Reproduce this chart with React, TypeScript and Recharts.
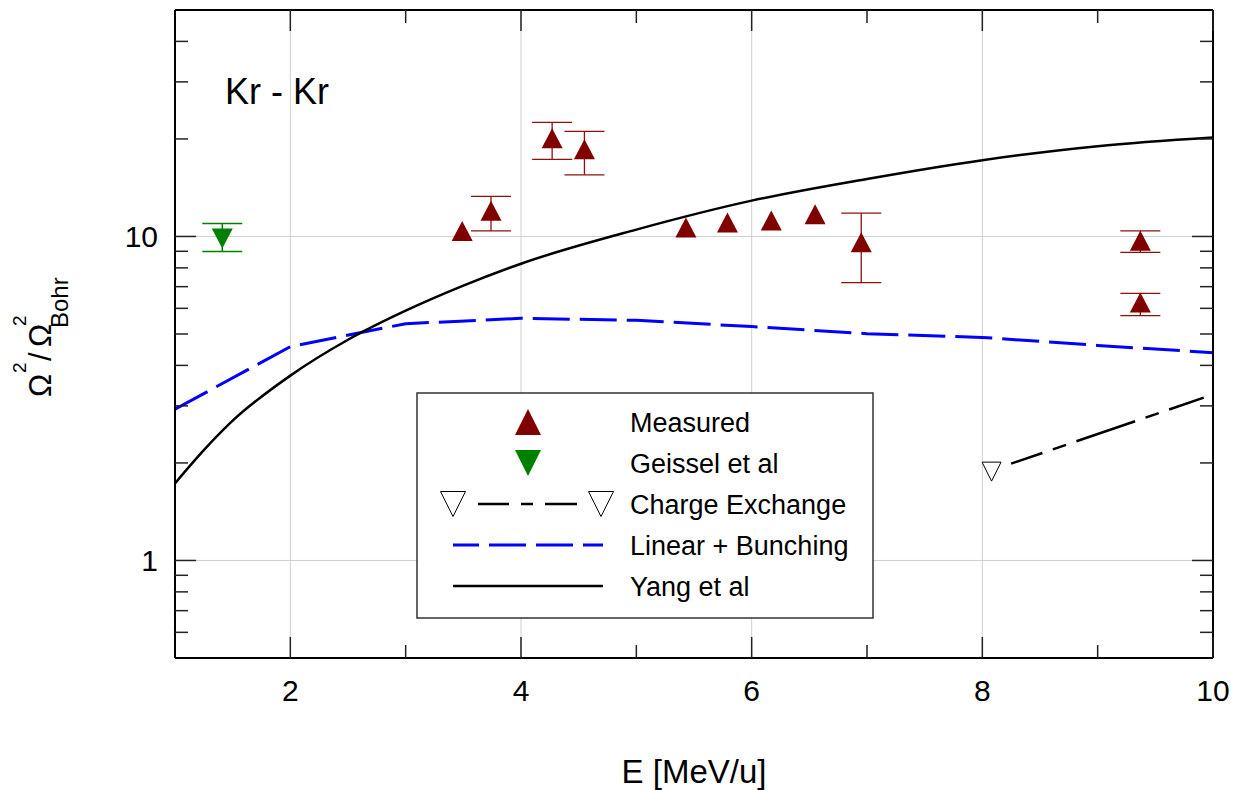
import React from 'react';
import {
  ComposedChart,
  XAxis,
  YAxis,
  Line,
  Scatter,
  ErrorBar,
  ReferenceLine,
} from 'recharts';

// ---------- data ----------
const xTicks = [2, 3, 4, 5, 6, 7, 8, 9, 10];
const xMajor = [2, 4, 6, 8, 10];
const yTicks = [0.6, 0.7, 0.8, 0.9, 1, 2, 3, 4, 5, 6, 7, 8, 9, 10, 20, 30, 40];
const yMajor = [1, 10];
const xGrid = [2, 4, 6, 8];
const yGrid = [1, 10];

// Measured (no visible error bars)
const measE = [3.49, 5.43, 5.79, 6.17, 6.55];
const measV = [10.4, 10.66, 11.05, 11.2, 11.7];

// Measured (with error bars)
const measErrE = [3.74, 4.27, 4.55, 6.95, 9.37, 9.37];
const measErrV = [12.0, 20.1, 18.6, 9.6, 9.7, 6.25];
const measErrLo = [10.4, 17.3, 15.5, 7.2, 8.93, 5.7];
const measErrHi = [13.3, 22.5, 21.1, 11.8, 10.4, 6.67];

// Geissel et al
const geisE = [1.41];
const geisV = [9.86];
const geisLo = [8.99];
const geisHi = [10.97];

// Charge exchange
const ceMarkE = [8.08];
const ceMarkV = [1.88];
const ceLineE = [8.25, 9.92];
const ceLineV = [1.99, 3.18];

// Linear + Bunching
const lbE = [1, 2, 3, 4, 5, 6, 7, 8, 9, 10];
const lbV = [2.93, 4.57, 5.38, 5.59, 5.51, 5.27, 5.01, 4.88, 4.61, 4.38];

// Yang et al
const yangE = [1, 1.25, 1.5, 2, 2.5, 3, 3.5, 4, 5, 6, 7, 8, 9, 10];
const yangV = [1.73, 2.19, 2.7, 3.72, 4.8, 5.9, 7.05, 8.24, 10.5, 12.9, 15.05, 17.2, 19.0, 20.2];

// ---------- derived tables ----------
const measData = measE.map((x, i) => ({ x, y: measV[i] }));
const measErrData = measErrE.map((x, i) => ({
  x,
  y: measErrV[i],
  err: [measErrV[i] - measErrLo[i], measErrHi[i] - measErrV[i]],
}));
const geisData = geisE.map((x, i) => ({
  x,
  y: geisV[i],
  err: [geisV[i] - geisLo[i], geisHi[i] - geisV[i]],
}));
const ceMarkData = ceMarkE.map((x, i) => ({ x, y: ceMarkV[i] }));
const ceLineData = ceLineE.map((x, i) => ({ x, y: ceLineV[i] }));
const lbData = lbE.map((x, i) => ({ x, y: lbV[i] }));
const yangData = yangE.map((x, i) => ({ x, y: yangV[i] }));

const FONT = '"Liberation Sans", Arial, Helvetica, sans-serif';
const RED = '#800000';
const GREEN = '#008000';
const BLUE = '#0000ff';

// ---------- shapes ----------
const triUp = (cx: number, cy: number, w: number, h: number) =>
  `${cx},${cy - h / 2} ${cx + w / 2},${cy + h / 2} ${cx - w / 2},${cy + h / 2}`;
const triDown = (cx: number, cy: number, w: number, h: number) =>
  `${cx - w / 2},${cy - h / 2} ${cx + w / 2},${cy - h / 2} ${cx},${cy + h / 2}`;

const UpShape = (p: any) => <polygon points={triUp(p.cx, p.cy, 21, 20)} fill={RED} />;
const DownGreenShape = (p: any) => <polygon points={triDown(p.cx, p.cy, 21, 20)} fill={GREEN} />;
const DownOpenShape = (p: any) => (
  <polygon points={triDown(p.cx, p.cy, 19, 19)} fill="#fff" stroke="#000" strokeWidth={1} />
);

// ---------- ticks ----------
const MAJ = 21;
const MIN = 13;
const TICK_COLOR = '#222';

const BottomTick = (p: any) => {
  const v = p.payload.value;
  const major = xMajor.includes(v);
  return (
    <g>
      <line x1={p.x} y1={p.y} x2={p.x} y2={p.y - (major ? MAJ : MIN)} stroke={TICK_COLOR} strokeWidth={1.5} />
      {major && (
        <text x={p.x} y={p.y + 43} textAnchor="middle" fontSize={30} fontFamily={FONT} fill="#000">
          {v}
        </text>
      )}
    </g>
  );
};
const TopTick = (p: any) => {
  const v = p.payload.value;
  const major = xMajor.includes(v);
  return <line x1={p.x} y1={p.y} x2={p.x} y2={p.y + (major ? MAJ : MIN)} stroke={TICK_COLOR} strokeWidth={1.5} />;
};
const LeftTick = (p: any) => {
  const v = p.payload.value;
  const major = yMajor.includes(v);
  return (
    <g>
      <line x1={p.x} y1={p.y} x2={p.x + (major ? MAJ : MIN)} y2={p.y} stroke={TICK_COLOR} strokeWidth={1.5} />
      {major && (
        <text x={p.x - 17} y={p.y + 11} textAnchor="end" fontSize={30} fontFamily={FONT} fill="#000">
          {v}
        </text>
      )}
    </g>
  );
};
const RightTick = (p: any) => {
  const v = p.payload.value;
  const major = yMajor.includes(v);
  return <line x1={p.x} y1={p.y} x2={p.x - (major ? MAJ : MIN)} y2={p.y} stroke={TICK_COLOR} strokeWidth={1.5} />;
};

const legendRows = [
  { label: 'Measured', y: 422 },
  { label: 'Geissel et al', y: 463 },
  { label: 'Charge Exchange', y: 504 },
  { label: 'Linear + Bunching', y: 545 },
  { label: 'Yang et al', y: 586 },
];

const axisLineStyle = { stroke: '#000', strokeWidth: 2 };

export default function App() {
  return (
    <div style={{ position: 'absolute', left: 0, top: 0, width: 1244, height: 790, background: '#fff' }}>
      <ComposedChart width={1244} height={790} margin={{ top: 9, right: 30, bottom: 131, left: 174 }}>
        <XAxis
          dataKey="x"
          type="number"
          domain={[1, 10]}
          allowDataOverflow
          ticks={xTicks}
          interval={0}
          orientation="bottom"
          height={1}
          tickSize={0}
          tickMargin={0}
          tickLine={false}
          axisLine={axisLineStyle}
          tick={BottomTick}
        />
        <XAxis
          xAxisId="top"
          dataKey="x"
          type="number"
          domain={[1, 10]}
          allowDataOverflow
          ticks={xTicks}
          interval={0}
          orientation="top"
          height={1}
          tickSize={0}
          tickMargin={0}
          tickLine={false}
          axisLine={axisLineStyle}
          tick={TopTick}
        />
        <YAxis
          dataKey="y"
          type="number"
          scale="log"
          domain={[0.5, 50]}
          allowDataOverflow
          ticks={yTicks}
          interval={0}
          orientation="left"
          width={1}
          tickSize={0}
          tickMargin={0}
          tickLine={false}
          axisLine={axisLineStyle}
          tick={LeftTick}
        />
        <YAxis
          yAxisId="right"
          dataKey="y"
          type="number"
          scale="log"
          domain={[0.5, 50]}
          allowDataOverflow
          ticks={yTicks}
          interval={0}
          orientation="right"
          width={1}
          tickSize={0}
          tickMargin={0}
          tickLine={false}
          axisLine={axisLineStyle}
          tick={RightTick}
        />

        {xGrid.map((v) => (
          <ReferenceLine key={'gx' + v} x={v} stroke="#cfcfcf" strokeWidth={1} />
        ))}
        {yGrid.map((v) => (
          <ReferenceLine key={'gy' + v} y={v} stroke="#cfcfcf" strokeWidth={1} />
        ))}

        <Line
          data={lbData}
          dataKey="y"
          type="linear"
          stroke={BLUE}
          strokeWidth={3}
          strokeDasharray="37 10"
          dot={false}
          activeDot={false}
          isAnimationActive={false}
        />
        <Line
          data={yangData}
          dataKey="y"
          type="monotone"
          stroke="#000"
          strokeWidth={2.5}
          dot={false}
          activeDot={false}
          isAnimationActive={false}
        />
        <Line
          data={ceLineData}
          dataKey="y"
          type="linear"
          stroke="#000"
          strokeWidth={2.5}
          strokeDasharray="33 11 14 11 62 11 14 11 40"
          dot={false}
          activeDot={false}
          isAnimationActive={false}
        />
        <Scatter data={ceMarkData} shape={DownOpenShape} isAnimationActive={false} />
        <Scatter data={geisData} shape={DownGreenShape} isAnimationActive={false}>
          <ErrorBar dataKey="err" direction="y" width={20} stroke={GREEN} strokeWidth={1.5} />
        </Scatter>
        <Scatter data={measErrData} shape={UpShape} isAnimationActive={false}>
          <ErrorBar dataKey="err" direction="y" width={20} stroke="#8b1010" strokeWidth={1.3} />
        </Scatter>
        <Scatter data={measData} shape={UpShape} isAnimationActive={false} />
      </ComposedChart>

      <svg
        width={1244}
        height={790}
        style={{ position: 'absolute', left: 0, top: 0, pointerEvents: 'none' }}
        fontFamily={FONT}
      >
        <text x={225} y={104} fontSize={36} fill="#000">
          Kr - Kr
        </text>
        <text x={694} y={783} fontSize={33} textAnchor="middle" fill="#000">
          E [MeV/u]
        </text>
        <g transform="translate(51,397) rotate(-90)" fill="#000">
          <text x={0} y={0} fontSize={31}>Ω</text>
          <text x={24} y={-25} fontSize={19}>2</text>
          <text x={36} y={0} fontSize={31}>/</text>
          <text x={50} y={0} fontSize={31}>Ω</text>
          <text x={71} y={-25} fontSize={19}>2</text>
          <text x={69} y={17} fontSize={24}>Bohr</text>
        </g>

        <rect x={417} y={393} width={456} height={225} fill="#fff" stroke="#333" strokeWidth={1.5} />
        <polygon points={triUp(528, legendRows[0].y, 26, 26)} fill={RED} />
        <polygon points={triDown(528, legendRows[1].y, 26, 26)} fill={GREEN} />
        <polygon points={triDown(453, legendRows[2].y, 25, 25)} fill="#fff" stroke="#000" strokeWidth={1} />
        <polygon points={triDown(601, legendRows[2].y, 25, 25)} fill="#fff" stroke="#000" strokeWidth={1} />
        <line x1={478} y1={legendRows[2].y} x2={577} y2={legendRows[2].y} stroke="#000" strokeWidth={2.5} strokeDasharray="31 12 12 12 40" />
        <line x1={453} y1={legendRows[3].y} x2={603} y2={legendRows[3].y} stroke={BLUE} strokeWidth={3} strokeDasharray="26 10 37 10 37 10 37" />
        <line x1={453} y1={legendRows[4].y} x2={603} y2={legendRows[4].y} stroke="#000" strokeWidth={2.5} />
        {legendRows.map((r) => (
          <text key={r.label} x={630} y={r.y + 10} fontSize={27} fill="#000">
            {r.label}
          </text>
        ))}
      </svg>
    </div>
  );
}
